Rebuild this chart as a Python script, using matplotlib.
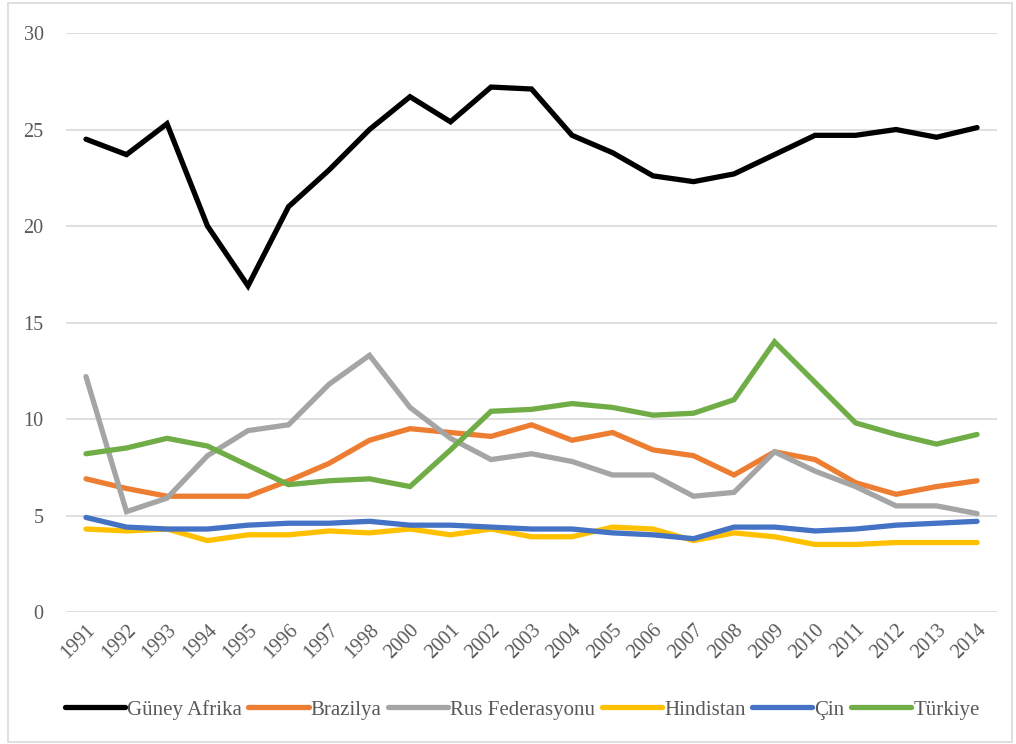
import matplotlib.pyplot as plt
from matplotlib.patches import Rectangle

# years on the x axis (1999 is not in the series)
years = ["1991", "1992", "1993", "1994", "1995", "1996", "1997", "1998",
         "2000", "2001", "2002", "2003", "2004", "2005", "2006", "2007",
         "2008", "2009", "2010", "2011", "2012", "2013", "2014"]

guney_afrika = [24.5, 23.7, 25.3, 20.0, 16.9, 21.0, 22.9, 25.0, 26.7, 25.4, 27.2, 27.1,
                24.7, 23.8, 22.6, 22.3, 22.7, 23.7, 24.7, 24.7, 25.0, 24.6, 25.1]
brazilya = [6.9, 6.4, 6.0, 6.0, 6.0, 6.8, 7.7, 8.9, 9.5, 9.3, 9.1, 9.7,
            8.9, 9.3, 8.4, 8.1, 7.1, 8.3, 7.9, 6.7, 6.1, 6.5, 6.8]
rus = [12.2, 5.2, 5.9, 8.1, 9.4, 9.7, 11.8, 13.3, 10.6, 9.0, 7.9, 8.2,
       7.8, 7.1, 7.1, 6.0, 6.2, 8.3, 7.3, 6.5, 5.5, 5.5, 5.1]
hindistan = [4.3, 4.2, 4.3, 3.7, 4.0, 4.0, 4.2, 4.1, 4.3, 4.0, 4.3, 3.9,
             3.9, 4.4, 4.3, 3.7, 4.1, 3.9, 3.5, 3.5, 3.6, 3.6, 3.6]
cin = [4.9, 4.4, 4.3, 4.3, 4.5, 4.6, 4.6, 4.7, 4.5, 4.5, 4.4, 4.3,
       4.3, 4.1, 4.0, 3.8, 4.4, 4.4, 4.2, 4.3, 4.5, 4.6, 4.7]
turkiye = [8.2, 8.5, 9.0, 8.6, 7.6, 6.6, 6.8, 6.9, 6.5, 8.4, 10.4, 10.5,
           10.8, 10.6, 10.2, 10.3, 11.0, 14.0, 11.9, 9.8, 9.2, 8.7, 9.2]

series = [
    ("Güney Afrika", guney_afrika, "#000000"),
    ("Brazilya", brazilya, "#ED7D31"),
    ("Rus Federasyonu", rus, "#A5A5A5"),
    ("Hindistan", hindistan, "#FFC000"),
    ("Çin", cin, "#4472C4"),
    ("Türkiye", turkiye, "#70AD47"),
]

plt.rcParams['font.family'] = ['Liberation Serif', 'DejaVu Serif']

fig = plt.figure(figsize=(10.16, 7.44), dpi=100)
ax = fig.add_axes([0.0647, 0.1774, 0.9169, 0.7782])

x = list(range(len(years)))
for name, vals, col in series:
    ax.plot(x, vals, color=col, lw=3.8, label=name, solid_capstyle='round',
            solid_joinstyle='miter')

ax.set_xlim(-0.5, len(years) - 0.5)
ax.set_ylim(0, 30)
ax.set_yticks(range(0, 31, 5))
ax.set_xticks(x)
ax.set_xticklabels(years, rotation=45, ha='right', rotation_mode='anchor')
ax.grid(axis='y', color='#D9D9D9', lw=1.2)
ax.set_axisbelow(True)
for s in ax.spines.values():
    s.set_visible(False)
ax.tick_params(axis='both', length=0, colors='#595959', labelsize=14.5)
ax.tick_params(axis='y', pad=16)
ax.tick_params(axis='x', pad=6)

leg = fig.legend(loc='center', bbox_to_anchor=(0.514, 0.046), ncol=6, frameon=False,
                 fontsize=15, handlelength=2.9, handletextpad=0.1,
                 columnspacing=0.3, labelcolor='#595959')

# light border round the chart area
fig.patches.append(Rectangle((0.008, 0.003), 0.988, 0.993, transform=fig.transFigure,
                             fill=False, edgecolor='#D9D9D9', lw=1.2))

fig.savefig("out.png", dpi=100)
